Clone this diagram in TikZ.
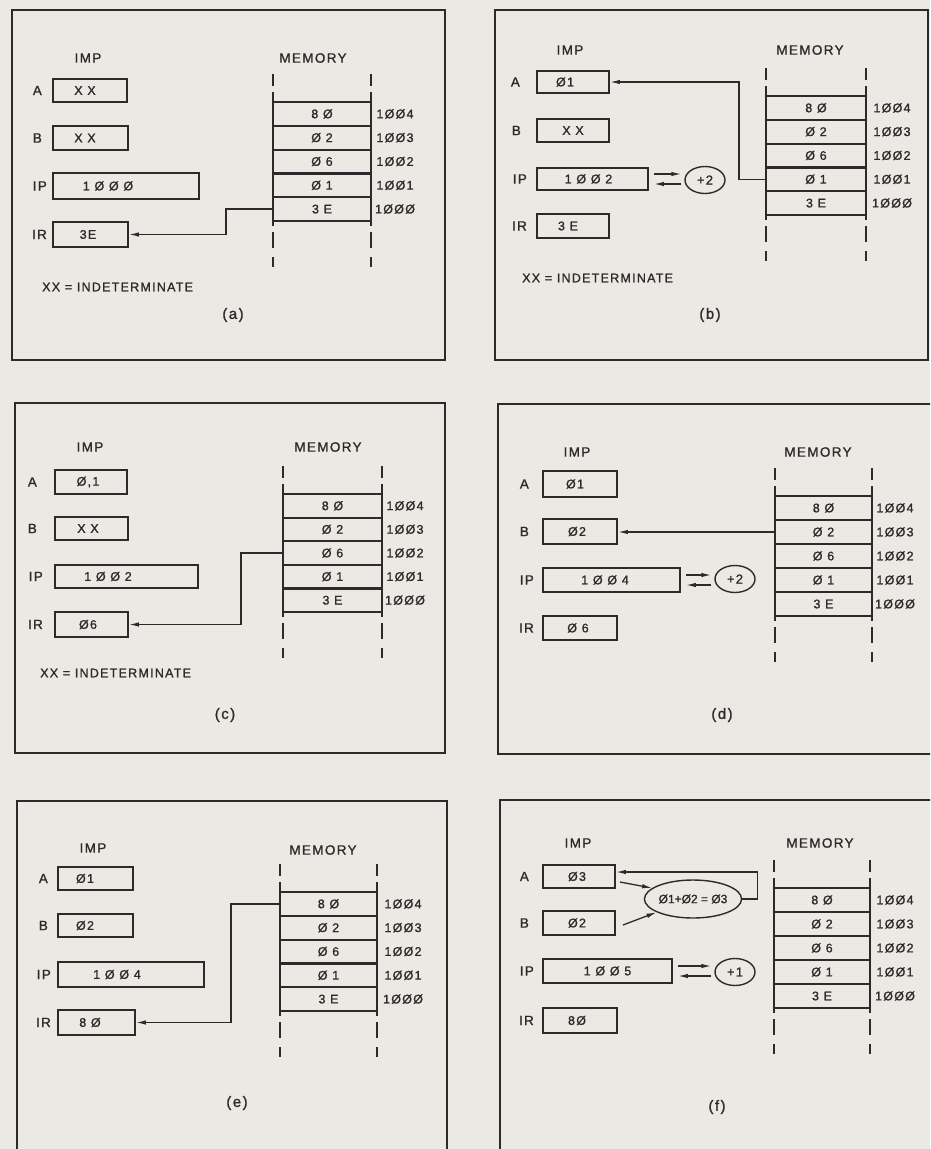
\documentclass[tikz,border=0pt]{standalone}
\usepackage{fontspec}
\setmainfont{Liberation Sans}[LetterSpace=10, FakeBold=1.2]
\usetikzlibrary{arrows.meta,shapes.geometric,calc}
\definecolor{bg}{HTML}{ECE9E4}
\definecolor{ink}{HTML}{2B2B2B}
\tikzset{
  frame/.style={draw=ink, line width=1.4pt},
  reg/.style={draw=ink, line width=1.9pt, rectangle, inner sep=0pt, text=ink, font=\fontsize{12.5}{14}\selectfont},
  rlab/.style={text=ink, font=\fontsize{13.5}{15}\selectfont, inner sep=0pt},
  head/.style={text=ink, font=\fontsize{13.5}{15}\selectfont, inner sep=0pt},
  legend/.style={text=ink, font=\fontsize{12.5}{14}\selectfont, inner sep=0pt},
  capt/.style={text=ink, font=\fontsize{15}{17}\selectfont, inner sep=0pt},
  cell/.style={draw=ink, line width=2.2pt, rectangle, inner sep=0pt, text=ink, font=\fontsize{12.5}{14}\selectfont},
  addr/.style={text=ink, font=\fontsize{12.5}{14}\selectfont, inner sep=0pt},
  conn/.style={draw=ink, line width=1.3pt, -{Latex[length=10pt,width=4.5pt]}},
  op/.style={ellipse, draw=ink, line width=1.4pt, inner sep=0pt, minimum width=40pt, minimum height=27pt, text=ink, font=\fontsize{13}{15}\selectfont},
  vline/.style={draw=ink, line width=2.2pt}
}
% register: name, label, x1, y1, x2, y2, text, text shift, label gap
\newcommand\reg[9]{%
  \node[reg, minimum width={(#5-#3)*1pt}, minimum height={(#6-#4)*1pt}] (#1) at ({(#3+#5)/2},{(#4+#6)/2}) {#7\hspace*{#8pt}};
  \node[rlab, anchor=east] (#1-lab) at ([xshift=-#9pt]#1.west) {#2};}
% memory column: prefix, L, R, y0, h, address x
\newcommand\memcol[6]{%
  \foreach \i/\v/\ad in {0/8 Ø/1ØØ4, 1/Ø 2/1ØØ3, 2/Ø 6/1ØØ2, 3/Ø 1/1ØØ1, 4/3 E/1ØØØ}{
    \node[cell, minimum width={(#3-#2)*1pt}, minimum height={#5*1pt}] (#1-c\i) at ({(#2+#3)/2},{#4+(\i+0.5)*#5}) {\v};
    \node[addr] (#1-a\i) at (#6,{#4+(\i+0.5)*#5}) {\ad};
  }
  \foreach \xx in {#2,#3}{
    \draw[vline] (\xx,{#4-28}) -- (\xx,{#4-16});
    \draw[vline] (\xx,{#4-10}) -- (\xx,{#4+5*#5+5});
    \draw[vline] (\xx,{#4+5*#5+11}) -- (\xx,{#4+5*#5+27});
    \draw[vline] (\xx,{#4+5*#5+36}) -- (\xx,{#4+5*#5+46});
  }}
% IP increment arrows: IP node, operator node
\newcommand\iparrows[2]{%
  \coordinate (#1-o1) at ([xshift=5pt,yshift=5pt]#1.east);
  \coordinate (#1-o2) at ([xshift=5pt,yshift=-5pt]#1.east);
  \draw[conn, shorten >=3pt] (#1-o1) -- (#1-o1 -| #2.west);
  \draw[conn, shorten <=3pt] (#1-o2 -| #2.west) -- (#1-o2);}
\begin{document}
\begin{tikzpicture}[x=1pt,y=-1pt]
\useasboundingbox (0,0) rectangle (930,1149);
\fill[bg] (0,0) rectangle (930,1149);
\clip (0,0) rectangle (930,1149);

% ---------- (a)
\draw[frame] (12,10) rectangle (445,360);
\node[head] (a-imp) at (88,58) {IMP};
\node[head] (a-mem) at (313,58) {MEMORY};
\reg{a-A}{A}{53}{79}{127}{102}{X X}{10}{10}
\reg{a-B}{B}{53}{126}{128}{150}{X X}{11}{10}
\reg{a-IP}{IP}{53}{173}{199}{199}{1 Ø Ø Ø}{36}{5}
\reg{a-IR}{IR}{53}{222}{128}{247}{3E}{5}{5}
\memcol{a}{273}{371}{102}{23.8}{395}
\draw[conn] (a-c4.west) -- ++(-46,0) |- (a-IR.east);
\node[legend, anchor=west] (a-xx) at (42,287) {XX = INDETERMINATE};
\node[capt] (a-cap) at (233,315) {(a)};

% ---------- (b)
\draw[frame] (495,10) rectangle (928,360);
\node[head] (b-imp) at (570,50) {IMP};
\node[head] (b-mem) at (810,50) {MEMORY};
\reg{b-A}{A}{537}{71}{609}{93}{Ø1}{16}{16}
\reg{b-B}{B}{537}{119}{609}{142}{X X}{0}{15}
\reg{b-IP}{IP}{537}{168}{648}{190}{1 Ø Ø 2}{8}{9}
\reg{b-IR}{IR}{537}{214}{609}{238}{3 E}{10}{9}
\memcol{b}{766}{866}{96}{23.8}{892}
\draw[conn] (b-c3.west) -- ++(-26,0) |- (b-A.east);
\node[op] (b-plus) at (705,180) {+2};
\iparrows{b-IP}{b-plus}
\node[legend, anchor=west] (b-xx) at (522,278) {XX = INDETERMINATE};
\node[capt] (b-cap) at (710,315) {(b)};

% ---------- (c)
\draw[frame] (15,403) rectangle (445,753);
\node[head] (c-imp) at (90,447) {IMP};
\node[head] (c-mem) at (328,447) {MEMORY};
\reg{c-A}{A}{55}{470}{127}{494}{Ø,1}{6}{17}
\reg{c-B}{B}{55}{517}{128}{540}{X X}{7}{17}
\reg{c-IP}{IP}{55}{565}{198}{588}{1 Ø Ø 2}{37}{11}
\reg{c-IR}{IR}{55}{612}{128}{637}{Ø6}{7}{11}
\memcol{c}{283}{382}{494}{23.6}{405}
\draw[conn] (c-c2.west) -- ++(-41,0) |- (c-IR.east);
\node[legend, anchor=west] (c-xx) at (40,673) {XX = INDETERMINATE};
\node[capt] (c-cap) at (225,715) {(c)};

% ---------- (d)
\draw[frame] (498,404) rectangle (940,754);
\node[head] (d-imp) at (577,452) {IMP};
\node[head] (d-mem) at (818,452) {MEMORY};
\reg{d-A}{A}{543}{471}{617}{497}{Ø1}{10}{13}
\reg{d-B}{B}{543}{519}{617}{544}{Ø2}{6}{13}
\reg{d-IP}{IP}{543}{568}{680}{592}{1 Ø Ø 4}{13}{8}
\reg{d-IR}{IR}{543}{616}{617}{640}{Ø 6}{4}{8}
\memcol{d}{775}{872}{496}{24}{895}
\draw[conn] (d-c1.west) -- (d-c1.west -| d-B.east);
\node[op] (d-plus) at (735,579) {+2};
\iparrows{d-IP}{d-plus}
\node[capt] (d-cap) at (722,715) {(d)};

% ---------- (e)
\draw[frame] (17,1160) -- (17,801) -- (447,801) -- (447,1160);
\node[head] (e-imp) at (93,848) {IMP};
\node[head] (e-mem) at (323,850) {MEMORY};
\reg{e-A}{A}{58}{867}{133}{890}{Ø1}{21}{9}
\reg{e-B}{B}{58}{914}{133}{937}{Ø2}{21}{9}
\reg{e-IP}{IP}{58}{962}{204}{987}{1 Ø Ø 4}{28}{6}
\reg{e-IR}{IR}{58}{1010}{135}{1035}{8 Ø}{13}{6}
\memcol{e}{280}{377}{892}{23.8}{403}
\draw[conn] (e-c0.west) -- ++(-48,0) |- (e-IR.east);
\node[capt] (e-cap) at (237,1103) {(e)};

% ---------- (f)
\draw[frame] (500,1160) -- (500,800) -- (940,800);
\node[head] (f-imp) at (578,843) {IMP};
\node[head] (f-mem) at (820,843) {MEMORY};
\reg{f-A}{A}{543}{865}{615}{888}{Ø3}{4}{13}
\reg{f-B}{B}{543}{911}{615}{935}{Ø2}{4}{13}
\reg{f-IP}{IP}{543}{959}{672}{983}{1 Ø Ø 5}{0}{8}
\reg{f-IR}{IR}{543}{1008}{617}{1033}{8Ø}{6}{8}
\memcol{f}{774}{870}{888}{24}{895}
\node[op, minimum width=93pt, minimum height=38pt, font=\fontsize{12}{14}\selectfont\addfontfeature{LetterSpace=0}] (f-sum) at (693,899) {Ø1+Ø2 = Ø3};
\draw[conn] ([xshift=4pt,yshift=-5.5pt]f-A.east) -- (f-sum.165);
\draw[conn] ([xshift=7pt,yshift=-2pt]f-B.east) -- (f-sum.200);
\draw[conn] (f-sum.east) -- ++(15,0) |- ([yshift=4.5pt]f-A.east);
\node[op] (f-plus) at (735,972) {+1};
\iparrows{f-IP}{f-plus}
\node[capt] (f-cap) at (717,1107) {(f)};
\end{tikzpicture}
\end{document}
